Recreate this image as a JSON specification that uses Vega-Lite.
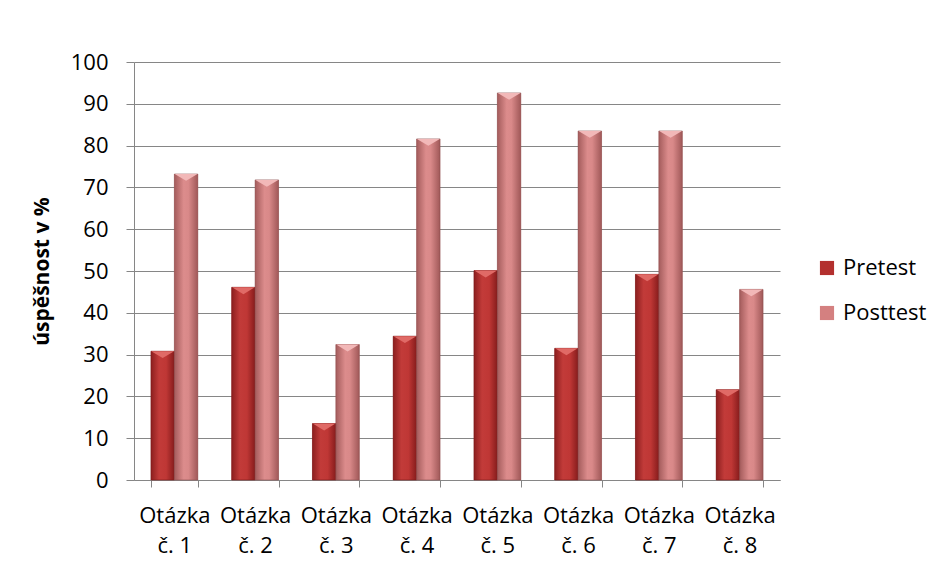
{
  "$schema": "https://vega.github.io/schema/vega-lite/v6.json",
  "width": 646,
  "height": 418,
  "autosize": {"type": "none"},
  "padding": {"left": 134, "top": 62, "right": 163, "bottom": 88},
  "background": "white",
  "config": {
    "font": "Open Sans",
    "view": {"stroke": null},
    "axis": {"labelFont": "Open Sans", "titleFont": "Open Sans", "labelColor": "#000000", "titleColor": "#000000"}
  },
  "data": {
    "values": [
      {"otazka": "Otázka č. 1", "test": "Pretest", "uspesnost": 30.8},
      {"otazka": "Otázka č. 1", "test": "Posttest", "uspesnost": 73.2},
      {"otazka": "Otázka č. 2", "test": "Pretest", "uspesnost": 46.1},
      {"otazka": "Otázka č. 2", "test": "Posttest", "uspesnost": 71.8},
      {"otazka": "Otázka č. 3", "test": "Pretest", "uspesnost": 13.5},
      {"otazka": "Otázka č. 3", "test": "Posttest", "uspesnost": 32.4},
      {"otazka": "Otázka č. 4", "test": "Pretest", "uspesnost": 34.4},
      {"otazka": "Otázka č. 4", "test": "Posttest", "uspesnost": 81.6},
      {"otazka": "Otázka č. 5", "test": "Pretest", "uspesnost": 50.1},
      {"otazka": "Otázka č. 5", "test": "Posttest", "uspesnost": 92.6},
      {"otazka": "Otázka č. 6", "test": "Pretest", "uspesnost": 31.5},
      {"otazka": "Otázka č. 6", "test": "Posttest", "uspesnost": 83.5},
      {"otazka": "Otázka č. 7", "test": "Pretest", "uspesnost": 49.2},
      {"otazka": "Otázka č. 7", "test": "Posttest", "uspesnost": 83.5},
      {"otazka": "Otázka č. 8", "test": "Pretest", "uspesnost": 21.6},
      {"otazka": "Otázka č. 8", "test": "Posttest", "uspesnost": 45.6}
    ]
  },
  "encoding": {
    "x": {
      "field": "otazka",
      "type": "nominal",
      "sort": null,
      "scale": {"paddingInner": 0.42, "paddingOuter": 0.21},
      "axis": {
        "title": null,
        "labelAngle": 0,
        "labelExpr": "[slice(datum.label, 0, 6), slice(datum.label, 7)]",
        "labelFontSize": 22,
        "labelLineHeight": 30,
        "labelPadding": 18,
        "labelOverlap": false,
        "tickBand": "extent",
        "tickSize": 7,
        "tickColor": "#868686",
        "domainColor": "#868686",
        "grid": false
      }
    },
    "xOffset": {"field": "test", "type": "nominal", "sort": ["Pretest", "Posttest"]},
    "y": {
      "field": "uspesnost",
      "type": "quantitative",
      "scale": {"domain": [0, 100]},
      "axis": {
        "title": "úspěšnost v %",
        "titleFontSize": 21,
        "titleFontWeight": "bold",
        "titlePadding": 18,
        "values": [0, 10, 20, 30, 40, 50, 60, 70, 80, 90, 100],
        "labelFontSize": 22,
        "labelPadding": 18,
        "tickSize": 8,
        "tickColor": "#868686",
        "domainColor": "#868686",
        "gridColor": "#868686",
        "gridWidth": 1.2
      }
    }
  },
  "layer": [
    {
      "mark": {"type": "bar"},
      "encoding": {
        "color": {
          "field": "test",
          "type": "nominal",
          "sort": ["Pretest", "Posttest"],
          "scale": {"domain": ["Pretest", "Posttest"], "range": ["#b3302e", "#d48080"]},
          "legend": {
            "title": null,
            "orient": "none",
            "legendX": 682,
            "legendY": 195,
            "symbolType": "square",
            "symbolSize": 200,
            "symbolStrokeWidth": 0,
            "labelFontSize": 22,
            "labelFont": "Open Sans",
            "labelColor": "#000000",
            "rowPadding": 23,
            "labelOffset": 5
          }
        }
      }
    },
    {
      "transform": [{"filter": "datum.test === 'Pretest'"}],
      "mark": {
        "type": "bar",
        "stroke": "#7a1a1a",
        "strokeWidth": 0.6,
        "fill": {
          "gradient": "linear", "x1": 0, "y1": 0, "x2": 1, "y2": 0,
          "stops": [
            {"offset": 0, "color": "#8c1f1f"},
            {"offset": 0.35, "color": "#c23b39"},
            {"offset": 0.65, "color": "#bf3735"},
            {"offset": 1, "color": "#861c1c"}
          ]
        }
      }
    },
    {
      "transform": [{"filter": "datum.test === 'Posttest'"}],
      "mark": {
        "type": "bar",
        "stroke": "#8f5050",
        "strokeWidth": 0.6,
        "fill": {
          "gradient": "linear", "x1": 0, "y1": 0, "x2": 1, "y2": 0,
          "stops": [
            {"offset": 0, "color": "#a45c5c"},
            {"offset": 0.4, "color": "#dc8c8c"},
            {"offset": 0.6, "color": "#d98989"},
            {"offset": 1, "color": "#a05858"}
          ]
        }
      }
    },
    {
      "mark": {"type": "point", "shape": "M-1,0L1,0L0,0.6Z", "size": 520, "filled": true, "opacity": 1, "strokeWidth": 0},
      "encoding": {
        "color": {
          "field": "test",
          "type": "nominal",
          "scale": {"domain": ["Pretest", "Posttest"], "range": ["#e06a66", "#f2b8b8"]},
          "legend": null
        }
      }
    }
  ],
  "resolve": {"scale": {"color": "independent"}}
}
